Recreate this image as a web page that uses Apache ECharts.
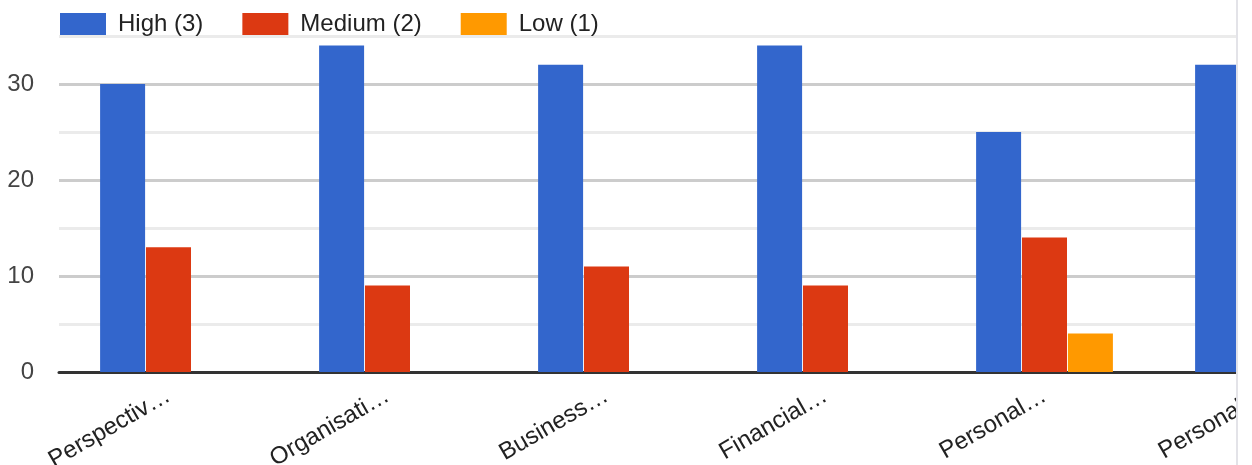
<!DOCTYPE html>
<html>
<head>
<meta charset="utf-8">
<script src="https://cdn.jsdelivr.net/npm/echarts@6/dist/echarts.min.js"></script>
<style>
  html, body { margin: 0; padding: 0; background: #fff; overflow: hidden; }
  #wrap { position: relative; width: 1252px; height: 465px; overflow: hidden; }
  #chart { position: absolute; left: 0; top: 0; width: 1400px; height: 465px; }
  #edge { position: absolute; left: 1236px; top: 0; width: 2px; height: 465px; background: #e3e3e8; }
  #blank { position: absolute; left: 1238px; top: 0; width: 40px; height: 465px; background: #fff; }
</style>
</head>
<body>
<div id="wrap"><div id="chart"></div><div id="edge"></div><div id="blank"></div></div>
<script>
const categories = ['Perspectiv…', 'Organisati…', 'Business…', 'Financial…', 'Personal…', 'Personal…'];
const seriesNames = ['High (3)', 'Medium (2)', 'Low (1)'];
const highValues = [30, 34, 32, 34, 25, 32];
const mediumValues = [13, 9, 11, 9, 14, 11];
const lowValues = [0, 0, 0, 0, 4, 0];
const colors = ['#3366cc', '#dc3912', '#ff9900'];

const chart = echarts.init(document.getElementById('chart'), null, { renderer: 'canvas' });
const font = '"Liberation Sans", Arial, sans-serif';

function bar(name, data, color) {
  return {
    name: name,
    type: 'bar',
    data: data,
    barWidth: 45,
    barGap: '2%',
    itemStyle: { color: color },
    emphasis: { disabled: true }
  };
}

chart.setOption({
  animation: false,
  textStyle: { fontFamily: font },
  legend: {
    left: 60,
    top: 12,
    padding: 0,
    itemWidth: 46,
    itemHeight: 22,
    itemGap: 39,
    icon: 'rect',
    data: seriesNames,
    textStyle: { fontSize: 24, color: '#222', fontFamily: font, padding: [0, 0, 0, 7] }
  },
  grid: { left: 59, top: 36, width: 1314, height: 336, containLabel: false, outerBoundsMode: 'none' },
  xAxis: {
    type: 'category',
    data: categories,
    axisLine: { show: true, lineStyle: { color: '#333', width: 3 } },
    axisTick: { show: false },
    axisLabel: { rotate: 30, fontSize: 24, color: '#222', margin: 22, fontFamily: font, interval: 0 },
    splitLine: { show: false }
  },
  yAxis: {
    type: 'value',
    min: 0,
    max: 35,
    interval: 5,
    axisLine: { show: false },
    axisTick: { show: false },
    axisLabel: {
      fontSize: 24, color: '#444', margin: 25, fontFamily: font,
      formatter: function (v) { return v % 10 === 0 ? String(v) : ''; }
    },
    splitLine: { show: true, lineStyle: { color: ['#cccccc', '#ebebeb'], width: 3 } }
  },
  series: [
    bar(seriesNames[0], highValues, colors[0]),
    bar(seriesNames[1], mediumValues, colors[1]),
    bar(seriesNames[2], lowValues, colors[2])
  ]
});
</script>
</body>
</html>
